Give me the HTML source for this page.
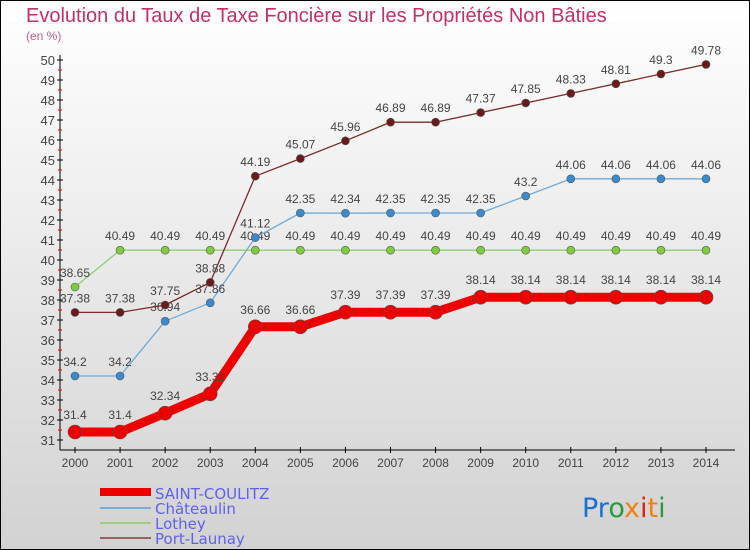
<!DOCTYPE html>
<html><head><meta charset="utf-8"><style>
body{margin:0}
#c{width:750px;height:550px;position:relative;box-sizing:border-box;border:1px solid #000;background:linear-gradient(#ffffff,#d2d2d2);font-family:"Liberation Sans",sans-serif;overflow:hidden}
</style></head><body>
<div id="c">
<svg id="s" width="750" height="550" style="position:absolute;left:-1px;top:-1px">
<text x="26" y="22" font-size="20" fill="#c2306a" font-family="Liberation Sans">Evolution du Taux de Taxe Foncière sur les Propriétés Non Bâties</text>
<text x="26" y="40" font-size="12" fill="#c25a8a" font-family="Liberation Sans">(en %)</text>
<g id="axes"></g><g id="series"></g>
<g font-family="DejaVu Sans">
<line x1="100" y1="492" x2="151" y2="492" stroke="#e00" stroke-width="8"/>
<text x="155" y="499" font-size="15" fill="#6060ee">SAINT-COULITZ</text>
<line x1="100" y1="508" x2="151" y2="508" stroke="#7aaed0" stroke-width="2"/>
<text x="155" y="514" font-size="15" fill="#6060ee">Châteaulin</text>
<line x1="100" y1="523" x2="151" y2="523" stroke="#9ed080" stroke-width="2"/>
<text x="155" y="529" font-size="15" fill="#6060ee">Lothey</text>
<line x1="100" y1="538" x2="151" y2="538" stroke="#986060" stroke-width="2"/>
<text x="155" y="544" font-size="15" fill="#6060ee">Port-Launay</text>
</g>
<text x="582" y="517" font-size="27" font-family="DejaVu Sans"><tspan fill="#1a6fd0">Pr</tspan><tspan fill="#2a9a40">o</tspan><tspan fill="#f08010">x</tspan><tspan fill="#e02010">i</tspan><tspan fill="#f08010">t</tspan><tspan fill="#2a9a40">i</tspan></text>
</svg>
</div>
<script>
const years=[2000,2001,2002,2003,2004,2005,2006,2007,2008,2009,2010,2011,2012,2013,2014];
const saint=[31.4,31.4,32.34,33.31,36.66,36.66,37.39,37.39,37.39,38.14,38.14,38.14,38.14,38.14,38.14];
const chateaulin=[34.2,34.2,36.94,37.86,41.12,42.35,42.34,42.35,42.35,42.35,43.2,44.06,44.06,44.06,44.06];
const lothey=[38.65,40.49,40.49,40.49,40.49,40.49,40.49,40.49,40.49,40.49,40.49,40.49,40.49,40.49,40.49];
const port=[37.38,37.38,37.75,38.88,44.19,45.07,45.96,46.89,46.89,47.37,47.85,48.33,48.81,49.3,49.78];
const yTicks=[31,32,33,34,35,36,37,38,39,40,41,42,43,44,45,46,47,48,49,50];
const NS="http://www.w3.org/2000/svg";
const X=i=>75+i*(706-75)/(years.length-1);
const Y=v=>440-(v-31)*20;
function mk(p,t,a){const e=document.createElementNS(NS,t);for(const k in a)e.setAttribute(k,a[k]);p.appendChild(e);return e;}
const ax=document.getElementById('axes');
let e=mk(ax,'line',{x1:60,y1:55,x2:60,y2:450,stroke:'#000'});


e=mk(ax,'line',{x1:60,y1:450,x2:735,y2:450,stroke:'#000'});


yTicks.forEach(v=>{
 mk(ax,'line',{x1:57,y1:Y(v),x2:63,y2:Y(v),stroke:'#000'});
 if(v<50) mk(ax,'line',{x1:58,y1:Y(v+0.5),x2:62,y2:Y(v+0.5),stroke:'#e00'});
 const t=mk(ax,'text',{x:55,y:Y(v)+5,'text-anchor':'end','font-size':13,fill:'#444'});
 t.textContent=v;
 
 
});
years.forEach((y,i)=>{
 mk(ax,'line',{x1:X(i),y1:447,x2:X(i),y2:453,stroke:'#000'});
 const t=mk(ax,'text',{x:X(i),y:467,'text-anchor':'middle','font-size':12,fill:'#444'});
 t.textContent=y;
 
 
});
const sg=document.getElementById('series');
function draw(vals,color,dot,w,r,name){
 const g=mk(sg,'g',{});
 
 
 const p=mk(g,'polyline',{points:vals.map((v,i)=>X(i)+','+Y(v)).join(' '),fill:'none',stroke:color,'stroke-width':w,'stroke-linejoin':'round'});
 
 
 vals.forEach((v,i)=>{
  const c=mk(g,'circle',{cx:X(i),cy:Y(v),r:r,fill:dot,stroke:'#555','stroke-width':0.6});
  
  
  const t=mk(g,'text',{x:X(i),y:Y(v)-(r+6),'text-anchor':'middle','font-size':12,fill:'#444'});
  t.textContent=v;
  
  
 });
}
draw(lothey,'#90d070','#80cc40',1.3,4,'lothey');
draw(chateaulin,'#70aad8','#3a8acc',1.3,4,'chateaulin');
draw(port,'#7a2a2a','#6a1a1a',1.3,4,'port-launay');
draw(saint,'#ee0000','#ee0000',9,7,'saint-coulitz');
</script>
</body></html>
